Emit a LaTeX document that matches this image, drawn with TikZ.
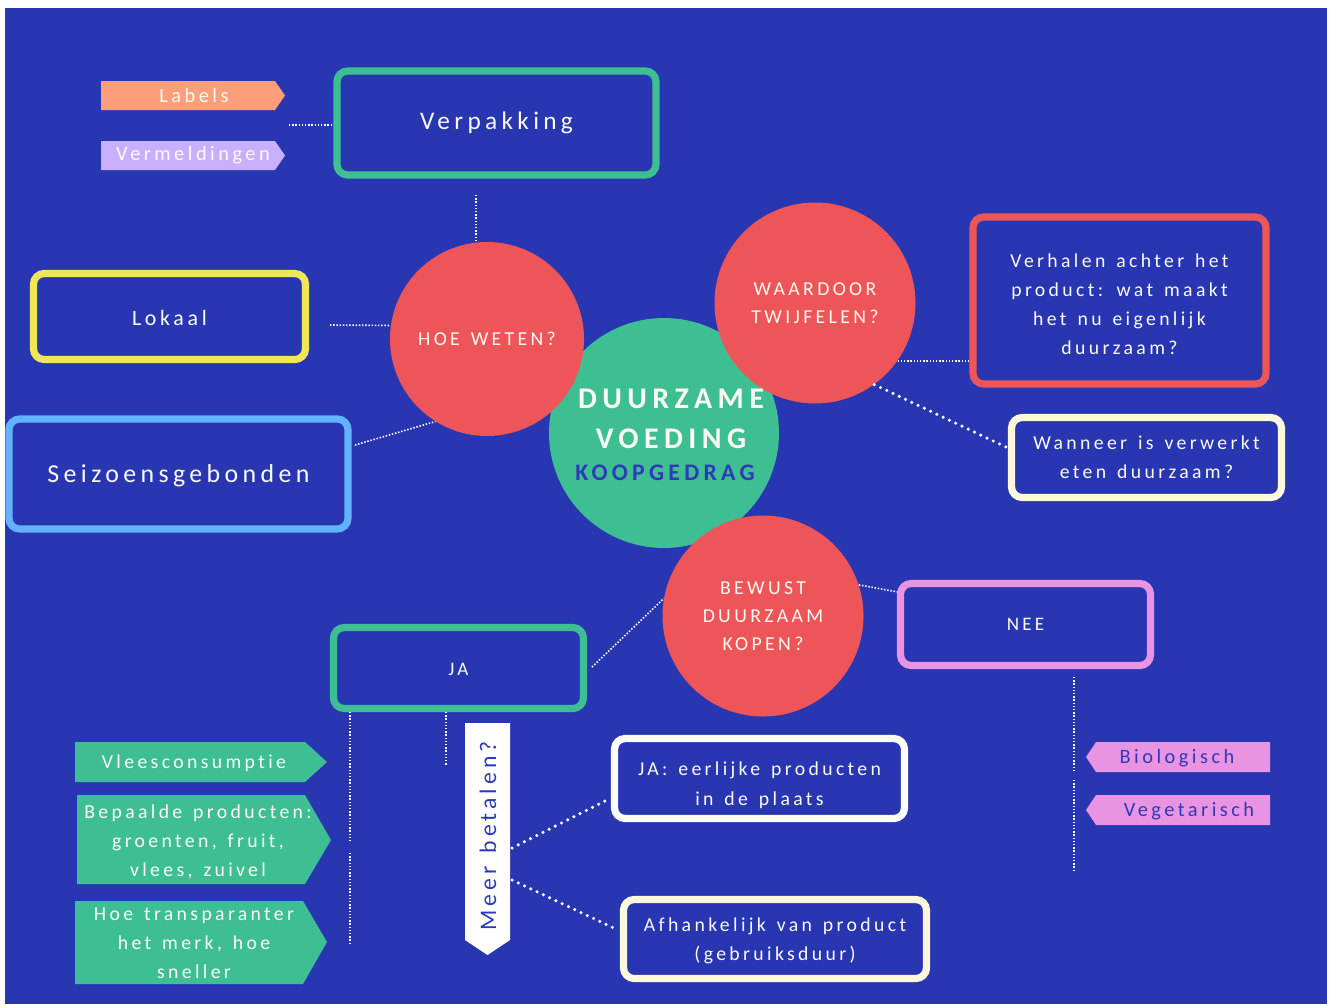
\documentclass[tikz,border=0pt]{standalone}
\usepackage{fontspec}
\setmainfont{Carlito}
\newfontfamily\lsfont{Carlito}[LetterSpace=17,WordSpace=1.4,Ligatures={NoCommon}]
\newfontfamily\lsbold{Carlito}[LetterSpace=18,WordSpace=1.4,Ligatures={NoCommon},BoldFont={Carlito Bold}]
\definecolor{bg}{HTML}{2836B2}
\definecolor{grn}{HTML}{3EBF93}
\definecolor{rd}{HTML}{EE5558}
\definecolor{yel}{HTML}{EEE856}
\definecolor{ltb}{HTML}{62B2FF}
\definecolor{org}{HTML}{FF9E7A}
\definecolor{lav}{HTML}{C9B0FF}
\definecolor{pnk}{HTML}{E994E2}
\definecolor{crm}{HTML}{FFF8DC}
\definecolor{txt}{HTML}{FDFAF2}
\definecolor{dblue}{HTML}{2E3AB8}
\def\px{0.75pt}
\newcommand{\fs}[2]{\lsfont\fontsize{#1}{#2}\selectfont}
\begin{document}
\begin{tikzpicture}[x=0.75pt,y=-0.75pt,
  box/.style={draw, fill=bg, rounded corners=8pt, line width=5.4pt, text=txt, align=center, inner sep=0pt},
  circ/.style={circle, fill=rd, text=txt, align=center, inner sep=0pt},
  tagtext/.style={text=txt, align=center, inner sep=0pt},
  dots/.style={draw=white, line width=1.2pt, dash pattern=on 1.1pt off 1.3pt},
  bigdots/.style={draw=white, line width=2.6pt, line cap=round, dash pattern=on 0pt off 5.2pt}]
\useasboundingbox (0,0) rectangle (1330,1004);
\fill[white] (0,0) rectangle (1330,1004);
\fill[bg] (5,8) rectangle (1327,1004);

% ---- free ends of the dotted connectors
\coordinate (lv) at (289,125);
\coordinate (vh) at (476,195);
\coordinate (lk) at (330,325);
\coordinate (sz) at (355,445);
\coordinate (j1a) at (350,843);
\coordinate (j1b) at (350,853);
\coordinate (j1) at (350,945);
\coordinate (j2) at (446,765);
\coordinate (m1) at (512,848);
\coordinate (m2) at (512,880);
\coordinate (n0) at (1074,677);
\coordinate (n1a) at (1074,770);
\coordinate (n1b) at (1074,780);
\coordinate (n1) at (1074,872);

% ---- central circle and question circles
\node[circle, fill=grn, minimum size=230*\px, inner sep=0pt] (core) at (664,433) {};
\node[circ, minimum size=194*\px, font={\fs{14.8}{16}}] (hoe) at (487,339) {HOE WETEN?};
\node[circ, minimum size=201*\px, font={\fs{14.8}{21}}] (waar) at (815,303) {WAARDOOR\\TWIJFELEN?};
\node[circ, minimum size=201*\px, font={\fs{14.8}{21}}] (bew) at (763,616) {BEWUST\\DUURZAAM\\KOPEN?};
\node[text=txt, align=center, inner sep=0pt, font={\lsbold\fontsize{22.5}{30}\selectfont\bfseries}] (title) at (671,419) {DUURZAME\\VOEDING};
\node[text=dblue, inner sep=0pt, font={\lsbold\fontsize{17.8}{20}\selectfont\bfseries}] (sub) at (665,473) {KOOPGEDRAG};

% ---- connectors
\draw[dots] (lv) -- (lv -| 333,0);
\draw[dots] (vh) -- (vh |- hoe.north);
\draw[dots] (lk) -- (hoe.172);
\draw[dots] (sz) -- (hoe.238);
\draw[dots] (waar.-35) -- (waar.-35 -| 969,0);
\draw[bigdots] (waar.-54) -- (1008,448);
\draw[dots] (bew.18) -- (898,592);
\draw[dots] (592,667) -- (bew.170);
\draw[dots] (j1a |- 0,712) -- (j1a);
\draw[dots] (j1b) -- (j1);
\draw[dots] (j2 |- 0,712) -- (j2);
\draw[bigdots] (m1) -- (607,800);
\draw[bigdots] (m2) -- (618,930);
\draw[dots] (n0) -- (n1a);
\draw[dots] (n1b) -- (n1);

% ---- boxes (frames) and their texts
\node[box, draw=grn, minimum width=319*\px, minimum height=104*\px, font={\fs{19}{20}}] (verp) at (496.5,123) {Verpakking};
\node[box, draw=yel, minimum width=272*\px, minimum height=86*\px, font={\fs{16.4}{18}}] (lokaal) at (169.5,316.5) {};
\node[tagtext, font={\fs{16.4}{18}}] (lokaalT) at (169.5,318) {Lokaal};
\node[box, draw=ltb, minimum width=339*\px, minimum height=110*\px] (seiz) at (178.5,474) {};
\node[tagtext, font={\fs{19.4}{20}}] (seizT) at (178.5,476) {Seizoensgebonden};
\node[box, draw=rd, minimum width=293*\px, minimum height=167*\px] (verh) at (1119.5,300.5) {};
\node[tagtext, font={\fs{14.8}{21.75}}] (verhT) at (1119.5,304) {Verhalen achter het\\product: wat maakt\\het nu eigenlijk\\duurzaam?};
\node[box, draw=crm, minimum width=270*\px, minimum height=80*\px, font={\fs{14.8}{21.75}}] (wann) at (1146.5,457.5) {Wanneer is verwerkt\\eten duurzaam?};
\node[box, draw=pnk, minimum width=250*\px, minimum height=82*\px, font={\fs{14.3}{16}}] (nee) at (1025.5,624.5) {NEE};
\node[box, draw=grn, minimum width=250*\px, minimum height=81*\px] (ja) at (458.5,668) {};
\node[tagtext, font={\fs{14.3}{16}}] (jaT) at (458.5,669.5) {JA};
\node[box, draw=white, minimum width=290*\px, minimum height=80*\px] (jae) at (759.5,778.5) {};
\node[tagtext, font={\fs{14.8}{22.5}}] (jaeT) at (759.5,785) {JA: eerlijke producten\\in de plaats};
\node[box, draw=crm, minimum width=303*\px, minimum height=79*\px] (afh) at (775,939) {};
\node[tagtext, font={\fs{14.8}{21.75}}] (afhT) at (775,941) {Afhankelijk van product\\(gebruiksduur)};

% ---- tags
\fill[org] (101,81) -- (275,81) -- (285,95.5) -- (275,110) -- (101,110) -- cycle;
\node[tagtext, font={\fs{15.3}{16}}] (labels) at (194,95.5) {Labels};
\fill[lav] (101,141) -- (275,141) -- (285,155.5) -- (275,170) -- (101,170) -- cycle;
\node[tagtext, font={\fs{15.3}{16}}] (verm) at (193,155.5) {Vermeldingen};

\fill[grn] (75,742) -- (305,742) -- (327,762) -- (305,782) -- (75,782) -- cycle;
\node[tagtext, font={\fs{14.8}{21.75}}] (vlees) at (194,763.5) {Vleesconsumptie};
\fill[grn] (77,795) -- (305,795) -- (331,840) -- (305,884) -- (77,884) -- cycle;
\node[tagtext, font={\fs{14.8}{21.75}}] (bep) at (198,841.5) {Bepaalde producten:\\groenten, fruit,\\vlees, zuivel};
\fill[grn] (75,901) -- (303,901) -- (327,942) -- (303,984) -- (75,984) -- cycle;
\node[tagtext, font={\fs{14.8}{21.75}}] (hoet) at (194,943) {Hoe transparanter\\het merk, hoe\\sneller};

\fill[pnk] (1086,757) -- (1096,742) -- (1270,742) -- (1270,772) -- (1096,772) -- cycle;
\node[text=dblue, inner sep=0pt, font={\fs{15.3}{16}}] (bio) at (1177,758) {Biologisch};
\fill[pnk] (1086,810) -- (1096,795) -- (1270,795) -- (1270,825) -- (1096,825) -- cycle;
\node[text=dblue, inner sep=0pt, font={\fs{15.3}{16}}] (veg) at (1189,811) {Vegetarisch};

% ---- banner
\fill[white] (465,723) -- (510,723) -- (510,940) -- (487.5,955) -- (465,940) -- cycle;
\node[text=dblue, rotate=90, inner sep=0pt, font={\fs{17.8}{18}}] (meer) at (488,836) {Meer betalen?};
\end{tikzpicture}
\end{document}
